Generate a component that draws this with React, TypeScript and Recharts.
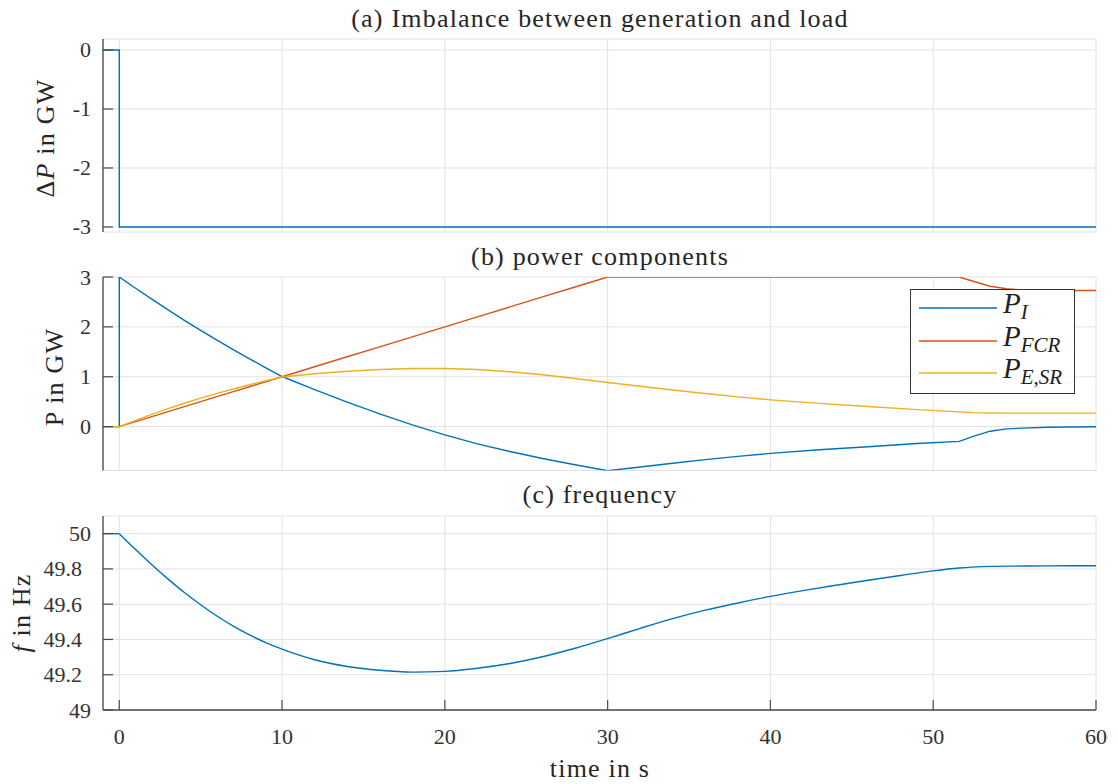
import React from 'react';
import { LineChart, Line, XAxis, YAxis, CartesianGrid, Legend } from 'recharts';

// ---------- data ----------
const timeA = [-1, 0, 0, 60];
const deltaP = [0, 0, -3, -3];

const timeB = [-1, 0, 0, 1, 2, 3, 4, 5, 6, 7, 8, 9, 10, 12, 14, 16, 18, 20, 22, 24, 26, 28, 30, 32, 34, 36, 38, 40, 43, 46, 49, 51.6, 52.5, 53.5, 54.5, 55.5, 57, 60];
const pI = [0, 0, 3, 2.775, 2.555, 2.34, 2.132, 1.93, 1.735, 1.545, 1.36, 1.18, 1.005, 0.74, 0.49, 0.255, 0.035, -0.165, -0.345, -0.5, -0.64, -0.765, -0.885, -0.81, -0.735, -0.663, -0.597, -0.537, -0.465, -0.403, -0.34, -0.295, -0.19, -0.092, -0.045, -0.03, -0.012, -0.002];
const pFCR = [0, 0, 0, 0.1, 0.2, 0.3, 0.4, 0.5, 0.6, 0.7, 0.8, 0.9, 1.0, 1.2, 1.4, 1.6, 1.8, 2.0, 2.2, 2.4, 2.6, 2.8, 3.0, 3, 3, 3, 3, 3, 3, 3, 3, 3, 2.91, 2.815, 2.765, 2.74, 2.73, 2.73];
const pESR = [0, 0, 0, 0.125, 0.245, 0.36, 0.468, 0.57, 0.665, 0.755, 0.84, 0.92, 0.995, 1.06, 1.11, 1.145, 1.165, 1.165, 1.145, 1.1, 1.04, 0.965, 0.885, 0.81, 0.735, 0.663, 0.597, 0.537, 0.465, 0.403, 0.34, 0.295, 0.28, 0.272, 0.27, 0.27, 0.27, 0.27];

const timeC = [-1, 0, 1, 2, 3, 4, 5, 6, 7, 8, 9, 10, 12, 14, 16, 18, 20, 22, 24, 26, 28, 30, 32, 34, 36, 38, 40, 42, 44, 46, 48, 50, 51.6, 53, 55, 57, 60];
const freq = [50, 50, 49.91, 49.823, 49.742, 49.666, 49.597, 49.533, 49.476, 49.426, 49.382, 49.345, 49.285, 49.247, 49.225, 49.215, 49.219, 49.237, 49.264, 49.302, 49.35, 49.405, 49.463, 49.518, 49.566, 49.607, 49.644, 49.677, 49.707, 49.736, 49.763, 49.789, 49.805, 49.813, 49.816, 49.817, 49.818];

const xTicks = [0, 10, 20, 30, 40, 50, 60];
const yTicksA = [-3, -2, -1, 0];
const yTicksB = [0, 1, 2, 3];
const yTicksC = [49, 49.2, 49.4, 49.6, 49.8, 50];

const titles = ['(a) Imbalance between generation and load', '(b) power components', '(c) frequency'];

// ---------- style ----------
const FONT = '"Liberation Serif", "Times New Roman", serif';
const AXIS = '#4a4a4a';
const GRID = '#e2e2e2';
const TXT = '#333333';
const C1 = '#0072BD';
const C2 = '#D95319';
const C3 = '#EDB120';
const W = 1118;

const dataA = timeA.map((t, i) => ({ t, dP: deltaP[i] }));
const dataB = timeB.map((t, i) => ({ t, pI: pI[i], pFCR: pFCR[i], pESR: pESR[i] }));
const dataC = timeC.map((t, i) => ({ t, f: freq[i] }));
const dataCpre = dataC.filter((d) => d.t <= 0);
const dataCpost = dataC.filter((d) => d.t >= 0);

const XTick = (props: any) => {
  const { x, y, payload, showLabel } = props;
  return (
    <g>
      <line x1={x} y1={y} x2={x} y2={y - 10} stroke={AXIS} strokeWidth={1.2} />
      {showLabel && (
        <text x={x} y={y + 26} textAnchor="middle" dominantBaseline="central" fontFamily={FONT} fontSize={22} fill={TXT}>
          {payload.value}
        </text>
      )}
    </g>
  );
};

const YTick = (props: any) => {
  const { x, y, payload } = props;
  const v = payload.value;
  const isInt = Number.isInteger(v);
  const label = isInt ? String(v) : v.toFixed(1);
  return (
    <g>
      <line x1={x} y1={y} x2={x + 10} y2={y} stroke={AXIS} strokeWidth={1.2} />
      <text x={x - (isInt ? 12 : 21)} y={y} textAnchor="end" dominantBaseline="central" fontFamily={FONT} fontSize={22} fill={TXT}>
        {label}
      </text>
    </g>
  );
};

const LegendBox = () => {
  const items = [
    { c: C1, sub: 'I' },
    { c: C2, sub: 'FCR' },
    { c: C3, sub: 'E,SR' },
  ];
  return (
    <div style={{ width: 165, height: 105, border: '1.3px solid #333', background: '#fff', boxSizing: 'border-box', paddingTop: 2 }}>
      {items.map((it) => (
        <div key={it.sub} style={{ height: 32.5, display: 'flex', alignItems: 'center' }}>
          <svg width={84} height={10} style={{ marginLeft: 8 }}>
            <line x1={0} y1={5} x2={78} y2={5} stroke={it.c} strokeWidth={1.5} />
          </svg>
          <span style={{ fontFamily: FONT, fontStyle: 'italic', fontSize: 29, color: '#222', lineHeight: 1, marginTop: -4 }}>
            P<sub style={{ fontSize: 21, fontStyle: 'italic', verticalAlign: '-0.3em', lineHeight: 1 }}>{it.sub}</sub>
          </span>
        </div>
      ))}
    </div>
  );
};

const xAxisProps = (showLabel: boolean, height: number) => ({
  type: 'number' as const,
  dataKey: 't',
  domain: [-1, 60],
  ticks: xTicks,
  allowDataOverflow: true,
  tickSize: 0,
  tickMargin: 0,
  tickLine: false,
  height,
  axisLine: { stroke: AXIS, strokeWidth: 1.3 },
  tick: (p: any) => <XTick {...p} showLabel={showLabel} />,
  interval: 0 as const,
});

const yAxisProps = (domain: number[], ticks: number[]) => ({
  type: 'number' as const,
  domain,
  ticks,
  allowDataOverflow: true,
  width: 60,
  tickSize: 0,
  tickMargin: 0,
  tickLine: false,
  axisLine: { stroke: AXIS, strokeWidth: 1.3 },
  tick: (p: any) => <YTick {...p} />,
  interval: 0 as const,
});

export default function App() {
  const titleStyle = { fontFamily: FONT, fontSize: 26, fill: '#262626', letterSpacing: 1.2 } as any;
  return (
    <div style={{ position: 'absolute', left: 0, top: 0, width: W, height: 784, background: '#fff', overflow: 'hidden' }}>
      <div style={{ position: 'absolute', left: 0, top: 0 }}>
        <LineChart width={W} height={240} data={dataA} margin={{ top: 39, right: 22, left: 43, bottom: 8 }}>
          <CartesianGrid stroke={GRID} strokeWidth={1} />
          <XAxis {...xAxisProps(false, 0)} />
          <YAxis {...yAxisProps([-3.085, 0.186], yTicksA)} />
          <Line dataKey="dP" stroke={C1} strokeWidth={1.4} dot={false} isAnimationActive={false} type="linear" />
        </LineChart>
      </div>
      <div style={{ position: 'absolute', left: 0, top: 240 }}>
        <LineChart width={W} height={240} data={dataB} margin={{ top: 37, right: 22, left: 43, bottom: 9.5 }}>
          <CartesianGrid stroke={GRID} strokeWidth={1} />
          <XAxis {...xAxisProps(false, 0)} />
          <YAxis {...yAxisProps([-0.88, 3], yTicksB)} />
          <Line dataKey="pI" stroke={C1} strokeWidth={1.4} dot={false} isAnimationActive={false} type="linear" />
          <Line dataKey="pFCR" stroke={C2} strokeWidth={1.4} dot={false} isAnimationActive={false} type="linear" />
          <Line dataKey="pESR" stroke={C3} strokeWidth={1.4} dot={false} isAnimationActive={false} type="linear" />
          <Legend layout="vertical" align="center" verticalAlign="middle" content={() => <LegendBox />} wrapperStyle={{ left: 910, top: 49, width: 165, height: 105 }} />
        </LineChart>
      </div>
      <div style={{ position: 'absolute', left: 0, top: 480 }}>
        <LineChart width={W} height={304} data={dataC} margin={{ top: 36, right: 22, left: 43, bottom: 34 }}>
          <CartesianGrid stroke={GRID} strokeWidth={1} />
          <XAxis {...xAxisProps(true, 40)} />
          <YAxis {...yAxisProps([49, 50.1], yTicksC)} />
          <Line data={dataCpre} dataKey="f" stroke={C1} strokeWidth={1.4} dot={false} isAnimationActive={false} type="linear" />
          <Line data={dataCpost} dataKey="f" stroke={C1} strokeWidth={1.4} dot={false} isAnimationActive={false} type="monotone" />
        </LineChart>
      </div>
      <svg width={W} height={784} style={{ position: 'absolute', left: 0, top: 0, pointerEvents: 'none' }}>
        <text x={600} y={18} textAnchor="middle" dominantBaseline="central" style={titleStyle}>{titles[0]}</text>
        <text x={600} y={256} textAnchor="middle" dominantBaseline="central" style={titleStyle}>{titles[1]}</text>
        <text x={600} y={494} textAnchor="middle" dominantBaseline="central" style={titleStyle}>{titles[2]}</text>
        <text x={600} y={768} textAnchor="middle" dominantBaseline="central" style={titleStyle}>time in s</text>
        <text transform="translate(45,138) rotate(-90)" textAnchor="middle" dominantBaseline="central" style={titleStyle}>
          Δ<tspan fontStyle="italic">P</tspan> in GW
        </text>
        <text transform="translate(54,377) rotate(-90)" textAnchor="middle" dominantBaseline="central" style={titleStyle}>P in GW</text>
        <text transform="translate(21,613) rotate(-90)" textAnchor="middle" dominantBaseline="central" style={titleStyle}>
          <tspan fontStyle="italic">f</tspan> in Hz
        </text>
      </svg>
    </div>
  );
}
